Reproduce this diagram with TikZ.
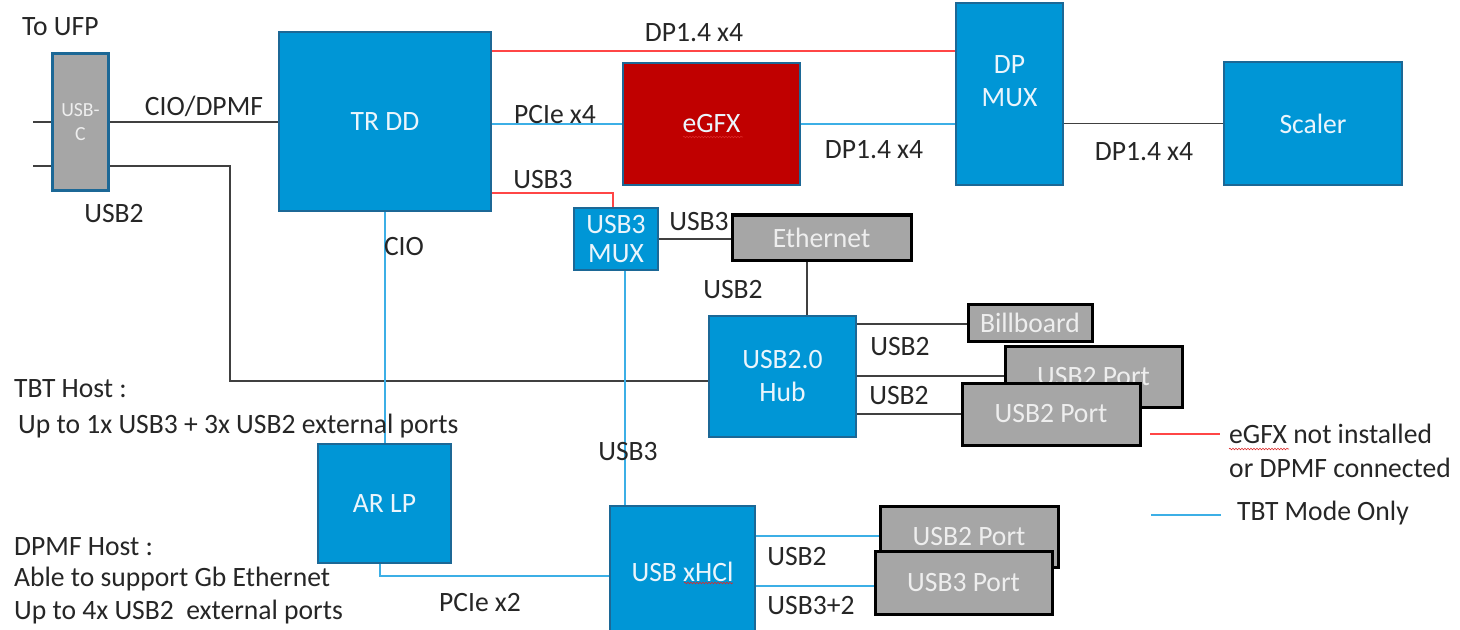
\documentclass[tikz,border=0pt]{standalone}
\usepackage{fontspec}
\setmainfont{Carlito}[FakeStretch=0.985]
\usetikzlibrary{decorations.pathmorphing}
\definecolor{hpblue}{RGB}{0,150,214}
\definecolor{hpborder}{RGB}{28,104,150}
\definecolor{boxgray}{RGB}{166,166,166}
\definecolor{egfxred}{RGB}{192,0,0}
\definecolor{redline}{RGB}{255,70,70}
\definecolor{blueline}{RGB}{60,175,230}
\definecolor{darkline}{RGB}{64,64,64}
\definecolor{labeltext}{RGB}{38,38,38}
\definecolor{boxtext}{RGB}{235,245,252}
\definecolor{graytext}{RGB}{238,238,238}
\definecolor{squigred}{RGB}{220,40,40}
\begin{document}
\begin{tikzpicture}[x=1bp,y=-1bp,
  txt/.style={font=\fontsize{28bp}{33bp}\selectfont},
  bluebox/.style={txt, draw=hpborder, line width=2.5bp, fill=hpblue, text=boxtext, inner sep=0pt, align=center},
  graybox/.style={txt, draw=black, line width=3bp, fill=boxgray, text=graytext, inner sep=0pt, align=center},
  lbl/.style={txt, text=labeltext, inner sep=0pt},
  dline/.style={draw=darkline, line width=1.3bp},
  rline/.style={draw=redline, line width=1.3bp},
  bline/.style={draw=blueline, line width=1.3bp},
  squig/.style={draw=squigred, line width=0.6bp, decorate, decoration={snake, amplitude=0.8bp, segment length=3bp}},
]
\useasboundingbox (0,0) rectangle (1460,630);

% ---------- boxes ----------
\node[bluebox, fill=boxgray, line width=3bp, minimum width=56bp, minimum height=137bp,
      font=\fontsize{20bp}{24bp}\selectfont, text=graytext] (usbc) at (80.5,122) {USB-\\C};
\node[bluebox, minimum width=212bp, minimum height=179bp] (trdd) at (385,121.5) {TR DD};
\node[bluebox, fill=egfxred, minimum width=177bp, minimum height=122bp] (egfx) at (711.5,124) {eGFX};
\node[bluebox, minimum width=107bp, minimum height=182bp] (dpmux) at (1009.5,94) {};
\node[txt, text=boxtext, align=center, inner sep=0pt] (dpmuxt) at (1009.5,81) {DP\\MUX};
\node[bluebox, minimum width=178bp, minimum height=123bp] (scaler) at (1313,123.5) {Scaler};
\node[bluebox, minimum width=84bp, minimum height=62bp, font=\fontsize{28bp}{29bp}\selectfont] (usb3mux) at (616,239) {USB3\\MUX};
\node[graybox, minimum width=179bp, minimum height=45bp] (ethernet) at (821.5,237.5) {Ethernet};
\node[bluebox, minimum width=147bp, minimum height=121bp] (hub) at (782.5,376.5) {USB2.0\\Hub};
\node[graybox, minimum width=124bp, minimum height=37bp] (billboard) at (1030,322.5) {Billboard};
\node[graybox, minimum width=177bp, minimum height=61bp] (usb2back) at (1093.5,376.5) {USB2 Port};
\node[graybox, minimum width=178bp, minimum height=62bp] (usb2front) at (1051,414) {USB2 Port};
\node[bluebox, minimum width=133bp, minimum height=119bp] (arlp) at (384.5,503.5) {AR LP};
\node[bluebox, minimum width=145bp, minimum height=130bp] (xhci) at (682.5,571) {};
\node[txt, text=boxtext, inner sep=0pt] (xhcit) at (682.5,572) {USB xHCl};
\node[graybox, minimum width=178bp, minimum height=61bp] (usb2bot) at (969,536.5) {USB2 Port};
\node[graybox, minimum width=177bp, minimum height=63bp] (usb3port) at (963.5,582.5) {USB3 Port};

% ---------- helper coordinates ----------
\coordinate (s1) at (33,122);
\coordinate (s2) at (33,166);
\coordinate (u1) at (230,166);
\coordinate (u2) at (230,381);
\coordinate (r0) at (0,51);
\coordinate (r1) at (613,193);
\coordinate (c2) at (385,0);
\coordinate (v1) at (625,0);
\coordinate (e1) at (0,239);
\coordinate (e2) at (807,0);
\coordinate (h1) at (0,324);
\coordinate (h2) at (0,376);
\coordinate (h3) at (0,414);
\coordinate (p1) at (380,576);
\coordinate (x1) at (0,536);
\coordinate (x2) at (0,586);

% ---------- connectors ----------
\draw[dline] (s1) -- (usbc.west |- s1);
\draw[dline] (s2) -- (usbc.west |- s2);
\draw[dline] (usbc.east) -- (trdd.west |- usbc.east);
\draw[dline] (usbc.east |- u1) -- (u1) -- (u2) -- (hub.west |- u2);
\draw[rline] (trdd.east |- r0) -- (dpmux.west |- r0);
\draw[bline] (trdd.east |- egfx.west) -- (egfx.west);
\draw[bline] (egfx.east) -- (dpmux.west |- egfx.east);
\draw[dline] (dpmux.east |- scaler.west) -- (scaler.west);
\draw[rline] (trdd.east |- r1) -- (r1) -- (r1 |- usb3mux.north);
\draw[bline] (trdd.south -| c2) -- (arlp.north -| c2);
\draw[bline] (usb3mux.south -| v1) -- (xhci.north -| v1);
\draw[dline] (usb3mux.east |- e1) -- (ethernet.west |- e1);
\draw[dline] (ethernet.south -| e2) -- (hub.north -| e2);
\draw[dline] (hub.east |- h1) -- (billboard.west |- h1);
\draw[dline] (hub.east |- h2) -- (usb2back.west |- h2);
\draw[dline] (hub.east |- h3) -- (usb2front.west |- h3);
\draw[bline] (arlp.south -| p1) -- (p1) -- (xhci.west |- p1);
\draw[bline] (xhci.east |- x1) -- (usb2bot.west |- x1);
\draw[bline] (xhci.east |- x2) -- (usb3port.west |- x2);

% ---------- spell-check squiggles ----------
\draw[squig] (683,137) -- (743,137);
\draw[squig] (684,583) -- (733,583);
\draw[squig] (1229,449) -- (1289,449);

% ---------- labels ----------
\node[lbl, anchor=west] (toufp) at (22,27) {To UFP};
\node[lbl] (lcio) at (204,106) {CIO/DPMF};
\node[lbl] (lusb2a) at (114,214) {USB2};
\node[lbl] (ldp1) at (694,33) {DP1.4 x4};
\node[lbl] (lpcie4) at (555,115) {PCIe x4};
\node[lbl] (lusb3a) at (543,180) {USB3};
\node[lbl] (ldp2) at (874,150) {DP1.4 x4};
\node[lbl] (ldp3) at (1144,152) {DP1.4 x4};
\node[lbl] (lcio2) at (404,247) {CIO};
\node[lbl] (lusb3b) at (699,222) {USB3};
\node[lbl] (lusb2b) at (733,290) {USB2};
\node[lbl] (lusb2c) at (900,347) {USB2};
\node[lbl] (lusb2d) at (899,396) {USB2};
\node[lbl] (lusb3c) at (628,452) {USB3};
\node[lbl] (lpcie2) at (480,603) {PCIe x2};
\node[lbl] (lusb2e) at (797,557) {USB2};
\node[lbl] (lusb32) at (811,606) {USB3+2};

\node[lbl, anchor=west] (tbt1) at (14,389) {TBT Host :};
\node[lbl, anchor=west] (tbt2) at (18,426) {Up to 1x USB3 + 3x USB2 external ports};
\node[lbl, anchor=west] (dpmf1) at (14,547) {DPMF Host :};
\node[lbl, anchor=west] (dpmf2) at (14,579) {Able to support Gb Ethernet};
\node[lbl, anchor=west] (dpmf3) at (14,612) {Up to 4x USB2~ external ports};

% ---------- legend ----------
\coordinate (la) at (1150,434);
\coordinate (lb) at (1220,434);
\coordinate (lc) at (1151,515);
\coordinate (ld) at (1221,515);
\draw[rline] (la) -- (lb);
\draw[bline] (lc) -- (ld);
\node[lbl, anchor=west] (leg1) at (1229,434) {eGFX not installed};
\node[lbl, anchor=west] (leg2) at (1229,468) {or DPMF connected};
\node[lbl, anchor=west] (leg3) at (1237,513) {TBT Mode Only};
\end{tikzpicture}
\end{document}
